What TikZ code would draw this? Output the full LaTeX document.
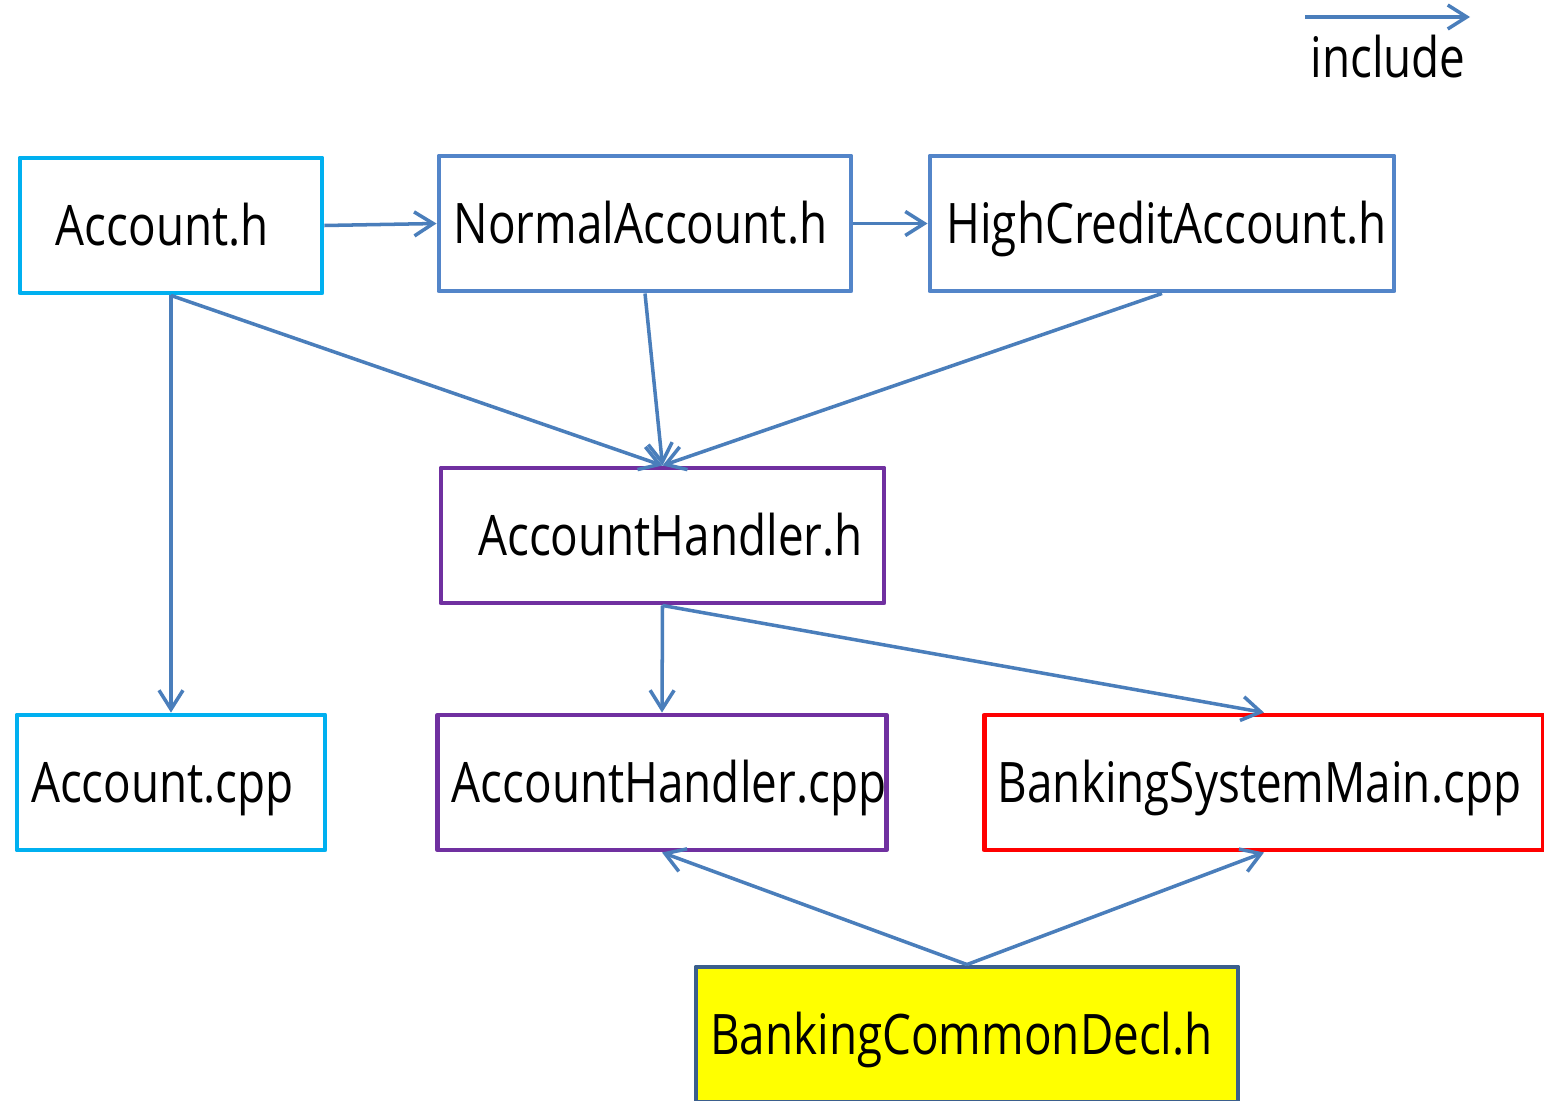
\documentclass[tikz,border=0pt]{standalone}
\usepackage{fontspec}
\setmainfont[FakeStretch=0.82]{Open Sans}
\usetikzlibrary{arrows.meta}
\definecolor{cyanb}{HTML}{00B0F0}
\definecolor{blueb}{HTML}{5385C9}
\definecolor{purpb}{HTML}{7030A0}
\definecolor{redb}{HTML}{FF0000}
\definecolor{yelb}{HTML}{FFFF00}
\definecolor{darkb}{HTML}{3B5F8C}
\definecolor{arr}{HTML}{4A7EBB}
\newcommand{\px}[1]{\hspace*{\dimexpr 0.02cm*#1\relax}}
\begin{document}
\begin{tikzpicture}[x=0.02cm,y=-0.02cm,
  box/.style={draw,line width=2.8pt,line join=round,rectangle,inner sep=0pt,
    minimum height=135*0.02cm,text height=0.8cm,text depth=0pt,
    font=\fontsize{31.8}{36}\selectfont},
  inc/.style={draw=arr,line width=2pt,-{Straight Barb[length=0.38cm,width=0.48cm,line width=2pt]}}]
\clip (0,0) rectangle (1544,1101);
\fill[white] (0,0) rectangle (1544,1101);
\node[box,draw=cyanb,minimum width=302*0.02cm] (acch) at (171,225.5) {Account.h\px{17}};
\node[box,draw=blueb,minimum width=412*0.02cm] (nah) at (645,223.5) {NormalAccount.h\px{9}};
\node[box,draw=blueb,minimum width=464*0.02cm] (hcah) at (1162,223.5) {\px{9}HighCreditAccount.h};
\node[box,draw=purpb,minimum width=443*0.02cm] (ahh) at (662.5,535.5) {\px{16}AccountHandler.h};
\node[box,draw=cyanb,minimum width=308*0.02cm] (accpp) at (171,782.5) {Account.cpp\px{17}};
\node[box,draw=purpb,minimum width=444*0.02cm] (ahcpp) at (662,782.5) {\px{14}AccountHandler.cpp};
\node[box,draw=redb,minimum width=559*0.02cm] (bsm) at (1264,782.5) {BankingSystemMain.cpp\px{9}};
\node[box,draw=darkb,fill=yelb,minimum width=542*0.02cm] (bcd) at (967,1034.5) {BankingCommonDecl.h\px{11}};
\coordinate (l1) at (1305,17);
\coordinate (l2) at (1470,17);
\draw[inc] (l1) -- (l2);
\node[font=\fontsize{31.8}{36}\selectfont,inner sep=0pt] (lg) at (1388,57) {include};
\draw[inc] (acch.east) -- (nah.west);
\draw[inc] (nah.east) -- (hcah.west);
\draw[inc] (acch.south) -- (ahh.north);
\draw[inc] (nah.south) -- (ahh.north);
\draw[inc] (hcah.south) -- (ahh.north);
\draw[inc] (acch.south) -- (accpp.north);
\draw[inc] (ahh.south) -- (ahcpp.north);
\draw[inc] (ahh.south) -- (bsm.north);
\draw[inc] (bcd.north) -- (ahcpp.south);
\draw[inc] (bcd.north) -- (bsm.south);
\end{tikzpicture}
\end{document}
